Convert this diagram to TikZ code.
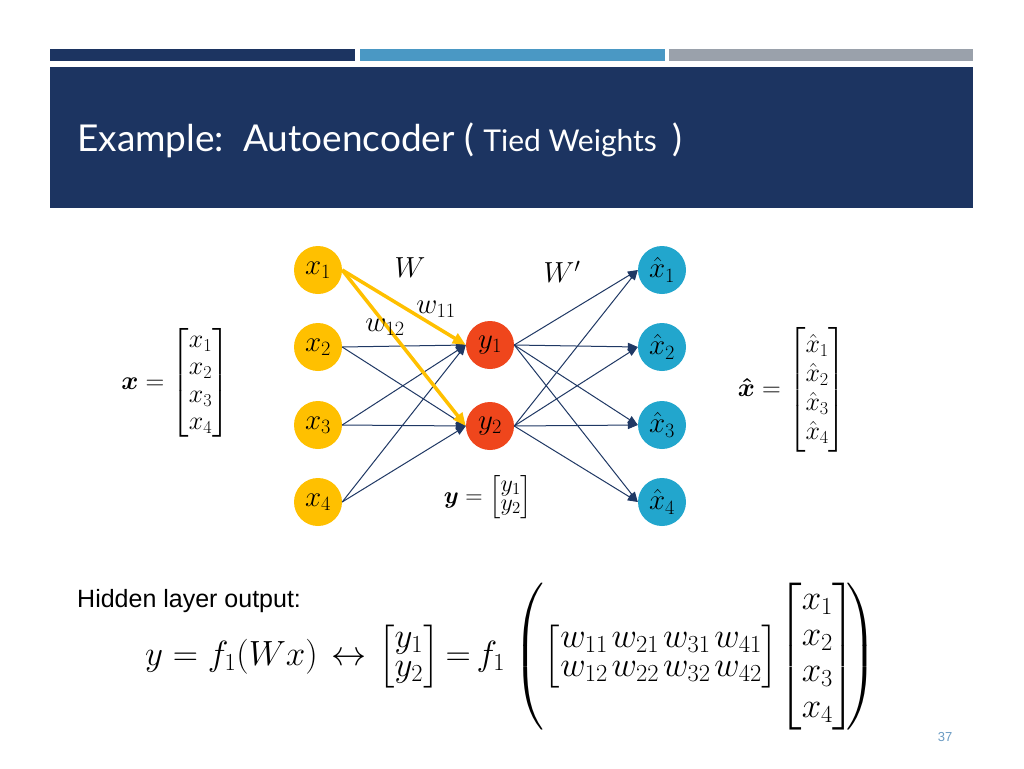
\RequirePackage{fix-cm}
\documentclass[tikz,border=0pt]{standalone}
\usepackage{amsmath,amssymb}
\usepackage{fontspec}
\newfontfamily\titlefont{Lato}
\newfontfamily\arialfont{Liberation Sans}
\usetikzlibrary{arrows.meta}
\definecolor{cnavy}{HTML}{1F3864}
\definecolor{cbox}{HTML}{1C3461}
\definecolor{clight}{HTML}{4A98C4}
\definecolor{cgray}{HTML}{9AA1AB}
\definecolor{cgold}{HTML}{FFC000}
\definecolor{cred}{HTML}{EF461C}
\definecolor{cblue}{HTML}{22A6CD}
\definecolor{cpage}{HTML}{6A9BC3}
\tikzset{
  neuron/.style={circle, minimum size=48pt, inner sep=0pt, font=\fontsize{29}{32}\selectfont},
  inp/.style={neuron, fill=cgold},
  hid/.style={neuron, fill=cred},
  outp/.style={neuron, fill=cblue},
  conn/.style={draw=cnavy, line width=1pt, -{Triangle[length=10pt,width=8pt]}},
  goldconn/.style={draw=cgold, line width=3.5pt, -{Triangle[length=13pt,width=11pt]}},
  lbl/.style={inner sep=0pt, font=\fontsize{29}{32}\selectfont},
  eqn/.style={inner sep=0pt, anchor=base west, font=\fontsize{35}{29}\selectfont},
}
\newcommand{\wsp}{\mkern2mu}
\begin{document}
\begin{tikzpicture}[x=1pt,y=-1pt]
\useasboundingbox (0,0) rectangle (1024,768);
\fill[white] (0,0) rectangle (1024,768);
% header bars
\fill[cbox] (50,49) rectangle (355,61);
\fill[clight] (360,49) rectangle (665,61);
\fill[cgray] (669,49) rectangle (973,61);
\fill[cbox] (50,67) rectangle (973,208);
\node[anchor=base west, inner sep=0pt, text=white] (title) at (77,151)
  {\titlefont\fontsize{37}{44}\selectfont Example:\ \ Autoencoder ( {\fontsize{30}{36}\selectfont Tied Weights} \,)};
% neurons
\node[inp] (x1) at (318,270) {$x_1$};
\node[inp] (x2) at (318,347) {$x_2$};
\node[inp] (x3) at (318,425) {$x_3$};
\node[inp] (x4) at (318,502) {$x_4$};
\node[hid] (y1) at (490,345) {$y_1$};
\node[hid] (y2) at (490,426) {$y_2$};
\node[outp] (h1) at (662,270) {$\hat{x}_1$};
\node[outp] (h2) at (662,347) {$\hat{x}_2$};
\node[outp] (h3) at (662,425) {$\hat{x}_3$};
\node[outp] (h4) at (662,502) {$\hat{x}_4$};
% connectors
\foreach \i in {2,3,4}{
  \foreach \j in {1,2}{
    \draw[conn] (x\i.east) -- (y\j.west);
  }
}
\foreach \j in {1,2}{
  \foreach \i in {1,2,3,4}{
    \draw[conn] (y\j.east) -- (h\i.west);
  }
}
\draw[goldconn] (x1.east) -- (y1.west);
\draw[goldconn] (x1.east) -- (y2.west);
% labels
\node[lbl] (lW) at (410,268) {$W$};
\node[lbl] (lWp) at (562,272) {$W'$};
\node[lbl] (lw11) at (436,309) {$w_{11}$};
\node[lbl] (lw12) at (385,327) {$w_{12}$};
% vectors
\node[inner sep=0pt, font=\fontsize{26}{27.5}\selectfont] (xvec) at (175.5,383)
  {$\boldsymbol{x}=\begin{bmatrix}x_1\\x_2\\x_3\\x_4\end{bmatrix}$};
\node[inner sep=0pt, font=\fontsize{26}{29}\selectfont] (xhvec) at (792,390)
  {$\boldsymbol{\hat{x}}=\begin{bmatrix}\hat{x}_1\\\hat{x}_2\\\hat{x}_3\\\hat{x}_4\end{bmatrix}$};
\node[inner sep=0pt, font=\fontsize{24}{19}\selectfont] (yvec) at (488,497)
  {$\boldsymbol{y}=\begin{bmatrix}y_1\\y_2\end{bmatrix}$};
% bottom text
\node[anchor=base west, inner sep=0pt, font=\arialfont\fontsize{25}{30}\selectfont] (hid) at (77,607) {Hidden layer output:};
\node[eqn] (e1) at (145,665) {$y=f_1(Wx)$};
\node[eqn] (e2) at (331,665) {$\leftrightarrow$};
\node[eqn] (e3) at (378,665) {\setlength{\arraycolsep}{3pt}$\begin{bmatrix}y_1\\y_2\end{bmatrix}\mkern-2mu=\mkern-2mu f_1$};
\node[eqn] (e4) at (513,665) {\setlength{\arraycolsep}{1pt}$\left(\begin{bmatrix}w_{11}\wsp w_{21}\wsp w_{31}\wsp w_{41}\\w_{12}\wsp w_{22}\wsp w_{32}\wsp w_{42}\end{bmatrix}\mkern-3mu\renewcommand{\arraystretch}{1.24}\begin{bmatrix}x_1\\x_2\\x_3\\x_4\end{bmatrix}\mkern-5mu\right)$};
\node[anchor=center, inner sep=0pt, text=cpage, font=\arialfont\fontsize{13}{15}\selectfont] (pg) at (945,737) {37};
\end{tikzpicture}
\end{document}
